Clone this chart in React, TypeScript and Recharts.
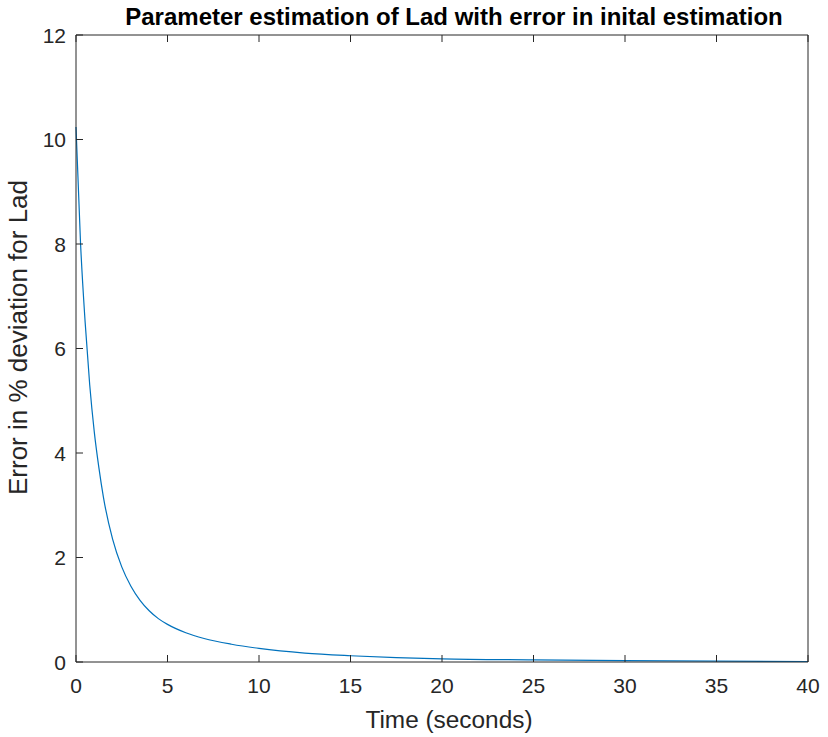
import React from "react";
import { LineChart, Line, XAxis, YAxis, Label } from "recharts";

const timeSeconds = [
  0, 0.25, 0.5, 0.75, 1, 1.25, 1.5, 2, 2.5, 3, 3.5, 4, 4.5, 5, 6, 7, 8.5, 10,
  12.5, 15, 17.5, 20, 25, 30, 35, 40,
];
const errorPct = [
  10.24, 8.0, 6.5, 5.3, 4.4, 3.72, 3.15, 2.35, 1.82, 1.45, 1.18, 0.98, 0.83,
  0.72, 0.56, 0.45, 0.34, 0.26, 0.17, 0.12, 0.085, 0.06, 0.04, 0.025, 0.015,
  0.01,
];
const xTicks = [0, 5, 10, 15, 20, 25, 30, 35, 40];
const yTicks = [0, 2, 4, 6, 8, 10, 12];

const data = timeSeconds.map((t, i) => ({ t, v: errorPct[i] }));

const AXIS = "#262626";
const FONT = "'Liberation Sans', Arial, Helvetica, sans-serif";
const TICK_LEN = 7;

const BottomTick = (props: any) => {
  const { x, y, payload } = props;
  return (
    <g>
      <line x1={x} y1={y} x2={x} y2={y - TICK_LEN} stroke={AXIS} strokeWidth={1} />
      <text x={x} y={y + 31} textAnchor="middle" fill={AXIS} fontSize={21} fontFamily={FONT}>
        {payload.value}
      </text>
    </g>
  );
};

const TopTick = (props: any) => {
  const { x, y } = props;
  return <line x1={x} y1={y} x2={x} y2={y + TICK_LEN} stroke={AXIS} strokeWidth={1} />;
};

const LeftTick = (props: any) => {
  const { x, y, payload } = props;
  return (
    <g>
      <line x1={x} y1={y} x2={x + TICK_LEN} y2={y} stroke={AXIS} strokeWidth={1} />
      <text x={x - 10} y={y + 7.5} textAnchor="end" fill={AXIS} fontSize={21} fontFamily={FONT}>
        {payload.value}
      </text>
    </g>
  );
};

const RightTick = (props: any) => {
  const { x, y } = props;
  return <line x1={x} y1={y} x2={x - TICK_LEN} y2={y} stroke={AXIS} strokeWidth={1} />;
};

export default function App() {
  return (
    <div style={{ position: "absolute", left: 0, top: 0, width: 828, height: 737, background: "#fff" }}>
      <div
        style={{
          position: "absolute",
          left: 0,
          top: 3,
          width: 908,
          textAlign: "center",
          fontFamily: FONT,
          fontWeight: "bold",
          fontSize: 24,
          color: "#000",
          whiteSpace: "nowrap",
          lineHeight: "28px",
        }}
      >
        Parameter estimation of Lad with error in inital estimation
      </div>
      <LineChart width={828} height={737} data={data} margin={{ top: 0, right: 0, bottom: 0, left: 0 }}>
        <XAxis
          xAxisId="bottom"
          dataKey="t"
          type="number"
          domain={[0, 40]}
          ticks={xTicks}
          height={75}
          tickSize={0}
          tickMargin={0}
          tickLine={false}
          tick={<BottomTick />}
          stroke={AXIS}
          interval={0}
        >
          <Label
            content={(p: any) => {
              const vb = p.viewBox;
              return (
                <text x={vb.x + vb.width / 2 + 7} y={vb.y + 66} textAnchor="middle" fill={AXIS} fontSize={24.4} fontFamily={FONT}>
                  Time (seconds)
                </text>
              );
            }}
          />
        </XAxis>
        <XAxis
          xAxisId="top"
          orientation="top"
          dataKey="t"
          type="number"
          domain={[0, 40]}
          ticks={xTicks}
          height={35}
          tickSize={0}
          tickMargin={0}
          tickLine={false}
          tick={<TopTick />}
          stroke={AXIS}
          interval={0}
        />
        <YAxis
          yAxisId="left"
          type="number"
          domain={[0, 12]}
          ticks={yTicks}
          width={76}
          tickSize={0}
          tickMargin={0}
          tickLine={false}
          tick={<LeftTick />}
          stroke={AXIS}
          interval={0}
        >
          <Label
            content={() => (
              <text
                x={27}
                y={337.5}
                transform="rotate(-90 27 337.5)"
                textAnchor="middle"
                fill={AXIS}
                fontSize={26}
                fontFamily={FONT}
              >
                Error in % deviation for Lad
              </text>
            )}
          />
        </YAxis>
        <YAxis
          yAxisId="right"
          orientation="right"
          type="number"
          domain={[0, 12]}
          ticks={yTicks}
          width={20}
          tickSize={0}
          tickMargin={0}
          tickLine={false}
          tick={<RightTick />}
          stroke={AXIS}
          interval={0}
        />
        <Line
          xAxisId="bottom"
          yAxisId="left"
          dataKey="v"
          type="monotone"
          stroke="#0072BD"
          strokeWidth={1.2}
          dot={false}
          isAnimationActive={false}
        />
      </LineChart>
    </div>
  );
}
